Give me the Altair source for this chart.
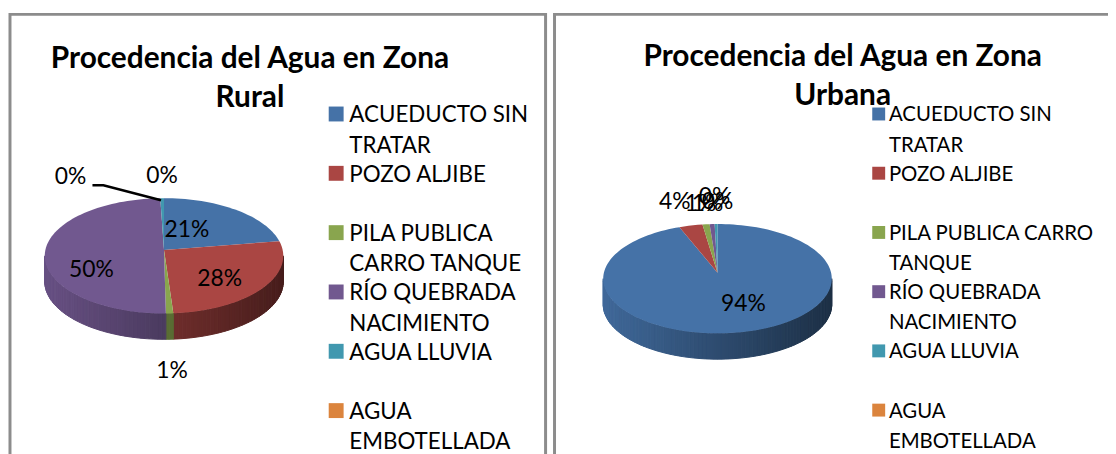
import json, math
import altair as alt

CATS = ["ACUEDUCTO SIN TRATAR", "POZO ALJIBE", "PILA PUBLICA CARRO TANQUE",
        "RÍO QUEBRADA NACIMIENTO", "AGUA LLUVIA", "AGUA EMBOTELLADA"]
COLORS = ["#4572a7", "#aa4643", "#89a54e", "#71588f", "#4198af", "#db843d"]

RURAL_VALUES = [21, 28, 1, 50, 0.5, 0]
URBAN_VALUES = [94.6, 3.3, 1, 0.7, 0.4, 0]
RURAL_TEXT = ["21%", "28%", "1%", "50%", "0%", "0%"]
URBAN_TEXT = ["94%", "4%", "1%", "1%", "0%", "0%"]
RURAL_WRAP = [["ACUEDUCTO SIN", "TRATAR"], ["POZO ALJIBE", " "], ["PILA PUBLICA", "CARRO TANQUE"],
              ["RÍO QUEBRADA", "NACIMIENTO"], ["AGUA LLUVIA", " "], ["AGUA", "EMBOTELLADA"]]
URBAN_WRAP = [["ACUEDUCTO SIN", "TRATAR"], ["POZO ALJIBE", " "], ["PILA PUBLICA CARRO", "TANQUE"],
              ["RÍO QUEBRADA", "NACIMIENTO"], ["AGUA LLUVIA", " "], ["AGUA", "EMBOTELLADA"]]


def shade(hex_color, f):
    r, g, b = (int(hex_color[i:i + 2], 16) for i in (1, 3, 5))
    return "#%02x%02x%02x" % (int(r * f), int(g * f), int(b * f))


def rim(g, a, d=0):
    t = math.radians(a)
    return [g["cx"] + g["rx"] * math.sin(t), g["cy"] - g["ry"] * math.cos(t) + d]


def build(values, g):
    total = sum(values)
    top, side = [], []
    a = 0
    for cat, col, v in zip(CATS, COLORS, values):
        sweep = 360 * v / total
        if v > 0:
            n = max(2, int(sweep / 2))
            arc = [rim(g, a + sweep * i / n) for i in range(n + 1)]
            ring = [[g["cx"], g["ay"]]] + arc + [[g["cx"], g["ay"]]]
            top.append({"type": "Feature", "properties": {"cat": cat},
                        "geometry": {"type": "Polygon", "coordinates": [ring]}})
            for i in range(int(sweep / 2) + 1):
                a1 = a + i * 2
                a2 = min(a + sweep, a1 + 2)
                lo, hi = max(a1, 90), min(a2, 270)
                if hi <= lo:
                    continue
                p1, p2 = rim(g, lo), rim(g, hi)
                tx = ((p1[0] + p2[0]) / 2 - (g["cx"] - g["rx"])) / (2 * g["rx"])
                c = shade(col, 0.92 - 0.5 * tx)
                ring = [p1, p2, rim(g, hi, g["depth"]), rim(g, lo, g["depth"]), p1]
                side.append({"type": "Feature", "properties": {"c": c},
                             "geometry": {"type": "Polygon", "coordinates": [ring]}})
        a += sweep
    return top, side


def geo(features):
    return alt.InlineData(values={"type": "FeatureCollection", "features": features},
                          format=alt.DataFormat(type="json", property="features"))


def panel(values, texts, wrap, g, lab_xy, title_lines, title_dx, title_off, w, h,
          lfont, lsym, lx, lpad, leader=None):
    ox, oy = g["ox"], g["oy"]
    local = dict(g, cx=g["cx"] - ox, cy=g["cy"] - oy, ay=g["ay"] - oy)
    top, side = build(values, local)
    proj = dict(type="identity", scale=1, translate=[0, 0])
    side_l = alt.Chart(geo(side)).mark_geoshape(strokeWidth=1).encode(
        fill=alt.Fill("properties.c:N", scale=None),
        stroke=alt.Stroke("properties.c:N", scale=None)).project(**proj)
    expr = json.dumps({c: l for c, l in zip(CATS, wrap)}, ensure_ascii=False)
    top_l = alt.Chart(geo(top)).mark_geoshape(strokeWidth=0).encode(
        color=alt.Color("properties.cat:N",
                        scale=alt.Scale(domain=CATS, range=COLORS),
                        legend=alt.Legend(orient="none", legendX=lx - ox, legendY=g["legY"] - oy,
                                          title=None, symbolType="square", symbolSize=lsym ** 2,
                                          symbolStrokeWidth=0, symbolOpacity=1,
                                          labelFont="Lato", labelFontSize=lfont, labelColor="#000",
                                          labelLimit=400, labelOffset=g["lOff"],
                                          rowPadding=lpad,
                                          labelExpr=expr + "[datum.label]"))
    ).project(**proj)
    rows = [{"t": t, "x": x - ox, "y": y - oy} for t, (x, y) in zip(texts, lab_xy)]
    text_l = alt.Chart(alt.Data(values=rows)).mark_text(
        font="Lato", fontSize=23, color="#000", baseline="middle", align="center"
    ).encode(x=alt.X("x:Q", scale=None, axis=None), y=alt.Y("y:Q", scale=None, axis=None), text="t:N")
    layers = [side_l, top_l, text_l]
    if leader:
        ldata = [{"x": x - ox, "y": y - oy, "o": i} for i, (x, y) in enumerate(leader)]
        layers.append(alt.Chart(alt.Data(values=ldata)).mark_line(color="#000", strokeWidth=2.5).encode(
            x=alt.X("x:Q", scale=None, axis=None), y=alt.Y("y:Q", scale=None, axis=None), order="o:Q"))
    return alt.layer(*layers).properties(
        width=w, height=h,
        title=alt.Title(text=title_lines, anchor="middle", dx=title_dx, offset=title_off,
                        font="Lato", fontSize=30, fontWeight="bold", lineHeight=39, color="#000"))


ORIGIN_Y = 12
rural = panel(RURAL_VALUES, RURAL_TEXT, RURAL_WRAP,
              dict(ox=9, oy=ORIGIN_Y, cx=164, cy=255, rx=120, ry=58, ay=249, depth=26, legY=101, lOff=2),
              [(187, 229), (220, 278), (172, 371), (91, 269), (70, 176), (162, 175)],
              ["Procedencia del Agua en Zona", "Rural"], -28, -99, 539, 450,
              22.5, 15, 326, 4.7, leader=[(92, 184), (103, 184), (161, 199)])
urban = panel(URBAN_VALUES, URBAN_TEXT, URBAN_WRAP,
              dict(ox=553, oy=ORIGIN_Y, cx=717, cy=278, rx=115, ry=55, ay=272, depth=26, legY=102, lOff=0),
              [(743, 304), (674, 201), (700, 203), (707, 203), (714, 196), (717, 201)],
              ["Procedencia del Agua en Zona", "Urbana"], 8, -97, 564, 450,
              20.5, 13, 869, 6.6)

chart = alt.hconcat(rural, urban, spacing=5).resolve_scale(color="independent").resolve_legend(
    color="independent").properties(
    padding={"left": 0, "top": 3, "right": -9, "bottom": -11}
).configure(
    view=alt.ViewConfig(stroke="#8c8c8c", strokeWidth=3),
    style={"guide-label": {"lineHeight": 30.5, "dy": 1.5}}, background="white")

chart.save("out.html", embed_options={"renderer": "svg", "actions": False})
